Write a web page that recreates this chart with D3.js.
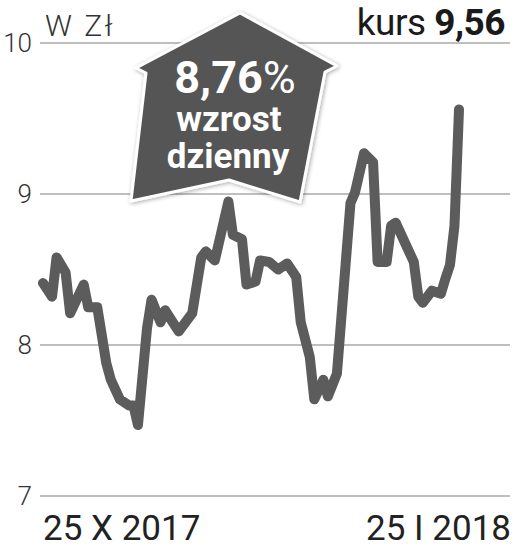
<!DOCTYPE html>
<html>
<head>
<meta charset="utf-8">
<script src="https://cdn.jsdelivr.net/npm/d3@7"></script>
<style>
  html, body { margin: 0; padding: 0; background: #fff; }
  svg { display: block; }
</style>
</head>
<body>
<svg></svg>
<script>
"use strict"

// dni od 25 X 2017 i kurs zamknięcia
let dayOffsets = [0, 2, 3, 5, 6, 9, 10, 12, 14, 15, 17, 19, 20, 21, 23, 24, 26, 27, 30, 33,
  35, 36, 38, 41, 42, 44, 45, 47, 48, 50, 52, 54, 56, 57, 59, 60, 62, 63, 65, 68,
  69, 71, 73, 74, 76, 77, 78, 82, 83, 84, 86, 88, 89, 90, 91, 92]
let prices = [8.41, 8.32, 8.58, 8.48, 8.21, 8.40, 8.25, 8.25, 7.88, 7.77, 7.64, 7.60, 7.60, 7.47, 8.11, 8.30, 8.15, 8.23, 8.09, 8.21,
  8.58, 8.62, 8.56, 8.95, 8.73, 8.70, 8.40, 8.42, 8.56, 8.55, 8.50, 8.54, 8.45, 8.15, 7.92, 7.64, 7.77, 7.66, 7.81, 8.94,
  9.01, 9.27, 9.21, 8.55, 8.55, 8.79, 8.81, 8.55, 8.32, 8.28, 8.36, 8.34, 8.44, 8.53, 8.79, 9.56]
let yTicks = [7, 8, 9, 10]
let startLabel = "25 X 2017"
let endLabel = "25 I 2018"

let width = 514, height = 549
let svg = d3.select("svg").attr("width", width).attr("height", height)

let start = new Date(2017, 9, 25)
let data = dayOffsets.map((d, i) => ({ date: d3.timeDay.offset(start, d), value: prices[i] }))

let x = d3.scaleTime()
  .domain([start, d3.timeDay.offset(start, 92)])
  .range([43, 459])
let y = d3.scaleLinear().domain([7, 10]).range([496, 43])

/* grid */
svg.append("g")
  .selectAll("line")
  .data(yTicks)
  .enter().append("line")
  .attr("x1", 40).attr("x2", 510)
  .attr("y1", d => y(d)).attr("y2", d => y(d))
  .attr("stroke", "#aaa")
  .attr("stroke-width", 1.5)

svg.append("g")
  .selectAll("text")
  .data(yTicks)
  .enter().append("text")
  .attr("x", 32)
  .attr("y", d => y(d))
  .attr("dy", "0.36em")
  .attr("text-anchor", "end")
  .style("font", "300 26px Roboto")
  .attr("fill", "#333")
  .text(d => d)

/* line */
let line = d3.line()
  .x(d => x(d.date))
  .y(d => y(d.value))

svg.append("path")
  .datum(data)
  .attr("d", line)
  .attr("fill", "none")
  .attr("stroke", "#5c5c5c")
  .attr("stroke-width", 10)
  .attr("stroke-linejoin", "round")
  .attr("stroke-linecap", "round")

/* header */
svg.append("text")
  .attr("x", 45).attr("y", 36)
  .style("font", "300 30px Roboto")
  .style("letter-spacing", "2.5px")
  .attr("fill", "#333")
  .text("W Zł")

let kurs = svg.append("text")
  .attr("x", 505).attr("y", 35)
  .attr("text-anchor", "end")
  .style("font-family", "Roboto")
  .style("font-size", "37px")
  .style("letter-spacing", "-0.5px")
  .attr("fill", "#1a1a1a")
kurs.append("tspan").text("kurs ")
kurs.append("tspan").style("font-weight", 700).text(d3.format(".2f")(prices[prices.length - 1]).replace(".", ","))

/* arrow badge */
let defs = svg.append("defs")
let f = defs.append("filter").attr("id", "shadow")
  .attr("x", "-20%").attr("y", "-20%").attr("width", "140%").attr("height", "140%")
f.append("feDropShadow")
  .attr("dx", 1).attr("dy", 1)
  .attr("stdDeviation", 2)
  .attr("flood-color", "#000")
  .attr("flood-opacity", 0.35)

let badge = [[240, 13], [337, 66], [325, 72], [300, 202], [229, 180], [131, 201], [146, 73], [136, 68]]
svg.append("path")
  .attr("d", "M" + badge.join("L") + "Z")
  .attr("fill", "#555556")
  .attr("stroke", "#fff")
  .attr("stroke-width", 3)
  .attr("stroke-linejoin", "round")
  .attr("filter", "url(#shadow)")

let change = (prices[prices.length - 1] / prices[prices.length - 2] - 1) * 100
let big = svg.append("text")
  .attr("x", 235).attr("y", 93)
  .attr("text-anchor", "middle")
  .style("font-family", "Roboto")
  .style("font-size", "45px")
  .attr("fill", "#fff")
big.append("tspan").style("font-weight", 700).text(d3.format(".2f")(change).replace(".", ","))
big.append("tspan").style("font-weight", 400).text("%")

svg.append("text")
  .attr("x", 229).attr("y", 131)
  .attr("text-anchor", "middle")
  .style("font", "700 35px Roboto")
  .attr("fill", "#fff")
  .text("wzrost")

svg.append("text")
  .attr("x", 228).attr("y", 168)
  .attr("text-anchor", "middle")
  .style("font", "700 35px Roboto")
  .attr("fill", "#fff")
  .text("dzienny")

/* x labels */
svg.append("text")
  .attr("x", 43).attr("y", 540)
  .style("font", "400 35px Roboto")
  .attr("fill", "#222")
  .text(startLabel)

svg.append("text")
  .attr("x", 511).attr("y", 540)
  .attr("text-anchor", "end")
  .style("font", "400 35px Roboto")
  .attr("fill", "#222")
  .text(endLabel)
</script>
</body>
</html>
